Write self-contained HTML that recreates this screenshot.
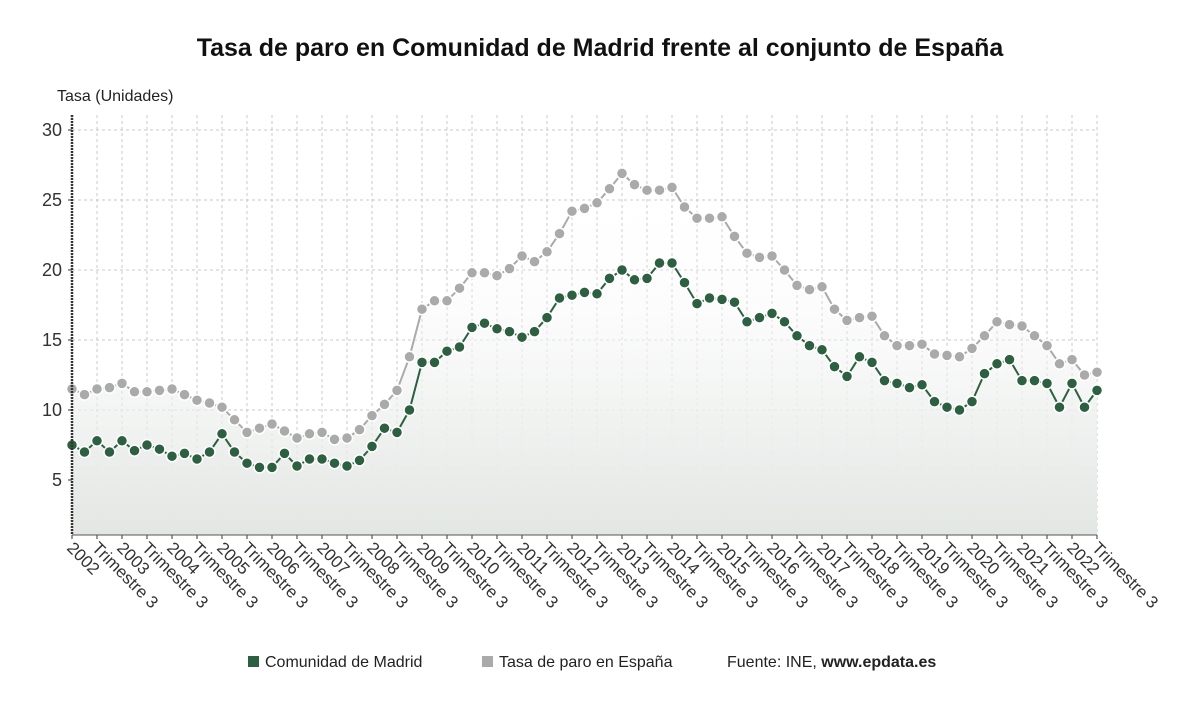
<!DOCTYPE html>
<html><head><meta charset="utf-8"><style>
body{margin:0;background:#fff;width:1200px;height:705px;overflow:hidden;font-family:"Liberation Sans","DejaVu Sans",sans-serif;}
svg{display:block}
</style></head><body>
<svg id="chart" width="1200" height="705" xmlns="http://www.w3.org/2000/svg">
<defs>
<linearGradient id="ga" x1="0" y1="0" x2="0" y2="1"><stop offset="0" stop-color="#ffffff" stop-opacity="0"/><stop offset="1" stop-color="#e3e7e4"/></linearGradient>
</defs>
<text x="600" y="56" text-anchor="middle" font-size="25" font-weight="bold" fill="#111">Tasa de paro en Comunidad de Madrid frente al conjunto de España</text>
<text x="57" y="101" font-size="16" fill="#222">Tasa (Unidades)</text>
<g id="grid"></g><g id="areas"></g><g id="lines"></g><g id="axes"></g>
<g>
<rect x="248" y="656" width="11" height="11" fill="#2d6040"/>
<text x="265" y="667" font-size="16" fill="#222">Comunidad de Madrid</text>
<rect x="482" y="656" width="11" height="11" fill="#aaaaaa"/>
<text x="499" y="667" font-size="16" fill="#222">Tasa de paro en España</text>
<text x="727" y="667" font-size="16" fill="#222">Fuente: INE, <tspan font-weight="bold">www.epdata.es</tspan></text>
</g>
</svg>
<script>
const madrid=[7.5,7.0,7.8,7.0,7.8,7.1,7.5,7.2,6.7,6.9,6.5,7.0,8.3,7.0,6.2,5.9,5.9,6.9,6.0,6.5,6.5,6.2,6.0,6.4,7.4,8.7,8.4,10.0,13.4,13.4,14.2,14.5,15.9,16.2,15.8,15.6,15.2,15.6,16.6,18.0,18.2,18.4,18.3,19.4,20.0,19.3,19.4,20.5,20.5,19.1,17.6,18.0,17.9,17.7,16.3,16.6,16.9,16.3,15.3,14.6,14.3,13.1,12.4,13.8,13.4,12.1,11.9,11.6,11.8,10.6,10.2,10.0,10.6,12.6,13.3,13.6,12.1,12.1,11.9,10.2,11.9,10.2,11.4];
const spain=[11.5,11.1,11.5,11.6,11.9,11.3,11.3,11.4,11.5,11.1,10.7,10.5,10.2,9.3,8.4,8.7,9.0,8.5,8.0,8.3,8.4,7.9,8.0,8.6,9.6,10.4,11.4,13.8,17.2,17.8,17.8,18.7,19.8,19.8,19.6,20.1,21.0,20.6,21.3,22.6,24.2,24.4,24.8,25.8,26.9,26.1,25.7,25.7,25.9,24.5,23.7,23.7,23.8,22.4,21.2,20.9,21.0,20.0,18.9,18.6,18.8,17.2,16.4,16.6,16.7,15.3,14.6,14.6,14.7,14.0,13.9,13.8,14.4,15.3,16.3,16.1,16.0,15.3,14.6,13.3,13.6,12.5,12.7];
const yTicks=[5,10,15,20,25,30];
const startYear=2002;
const NS="http://www.w3.org/2000/svg";
const X0=72,X1=1097,Y30=130,PX=14,YB=535,YT=115;
const n=madrid.length;
const x=i=>X0+(X1-X0)*i/(n-1);
const y=v=>Y30+(30-v)*PX;
function mk(t,a,p){const e=document.createElementNS(NS,t);for(const k in a)e.setAttribute(k,a[k]);p.appendChild(e);return e;}
const grid=document.getElementById('grid'),areas=document.getElementById('areas'),lines=document.getElementById('lines'),axes=document.getElementById('axes');
yTicks.forEach(v=>{
 const l=mk('line',{x1:X0,x2:X1,y1:y(v),y2:y(v),stroke:'#c8c8c8','stroke-dasharray':'3,3'},grid);
 
 
 const t=mk('text',{x:62,y:y(v)+6,'text-anchor':'end','font-size':18,fill:'#333'},axes);
 t.textContent=v;
 
 
 mk('line',{x1:68,x2:72,y1:y(v),y2:y(v),stroke:'#333'},axes);
});
mk('line',{x1:X0,x2:X1,y1:YB,y2:YB,stroke:'#c8c8c8','stroke-dasharray':'3,3'},grid);
for(let i=0;i<n;i+=2){
 const gx=x(i);
 const g=mk('line',{x1:gx,x2:gx,y1:YT,y2:YB,stroke:'#c8c8c8','stroke-dasharray':'3,3'},grid);
 
 
 mk('line',{x1:gx,x2:gx,y1:YB,y2:YB+4,stroke:'#333'},axes);
 const lbl=(i%4===0)?String(startYear+i/4):'Trimestre 3';
 const t=mk('text',{x:gx-6,y:YB+14,'font-size':17,fill:'#333',transform:`rotate(45 ${gx-6} ${YB+14})`},axes);
 t.textContent=lbl;
 
 
}
const ax=mk('line',{x1:X0,x2:X0,y1:YT,y2:YB,stroke:'#333','stroke-width':2.5,'stroke-dasharray':'2,1'},axes);


mk('line',{x1:X0,x2:X1,y1:YB,y2:YB,stroke:'#555','stroke-width':1},axes);
function series(data,color,name){
 const pts=data.map((v,i)=>x(i)+','+y(v)).join(' ');
 const a=mk('polygon',{points:`${x(0)},${YB} ${pts} ${x(n-1)},${YB}`,fill:'url(#ga)'},areas);
 
 
 const pl=mk('polyline',{points:pts,fill:'none',stroke:color,'stroke-width':2},lines);
 
 
 data.forEach((v,i)=>{
  const c=mk('circle',{cx:x(i),cy:y(v),r:5.5,fill:color,stroke:'#fff','stroke-width':1.5},lines);
  
  
 });
}
series(spain,'#aaaaaa','spain');
series(madrid,'#2d6040','madrid');
</script>
</body></html>
